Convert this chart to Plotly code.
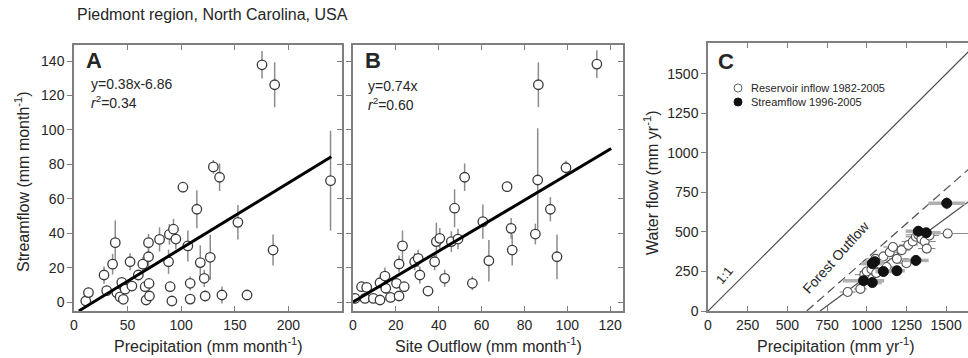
import plotly.graph_objects as go

W, H = 968, 358
FONT = "Liberation Sans, Arial, sans-serif"
TXT = "#262626"
AX = "#7f7f7f"

# ---------------- Panel A: precipitation vs streamflow (monthly) ----------------
a_precip = [11, 13.5, 28, 30.5, 36, 38.5, 40, 43, 44.6, 46, 47.7, 52.3, 54, 60, 64.2,
            66.4, 67.3, 69.5, 69.5, 70, 70.4, 79.8, 88.2, 89, 89.7, 91.3, 92.8, 95,
            101.6, 106.2, 108.4, 108.4, 114.6, 117.8, 121.5, 122.4, 127.1, 130, 135.8,
            138, 152.9, 161.4, 175.4, 185.7, 187.2, 239.3]
a_flow = [0.6, 5.5, 15.7, 6.6, 22, 34.5, 5.4, 3, 11.4, 1.6, 7.5, 23.4, 9.3, 15.7, 22,
          8.9, 1.2, 26.3, 34.5, 10.8, 3.5, 36.4, 23.4, 39.3, 8.9, 0.6, 42.3, 36.6,
          66.7, 32.6, 10.9, 1.7, 53.9, 22.9, 13.8, 3.5, 26, 78.5, 72.5,
          4.1, 46.3, 4.1, 137.8, 30.2, 126.2, 70.5]
a_err = [2, 3, 5, 3, 6, 13, 3, 2, 3, 2, 3, 5, 3, 3, 4,
         3, 2, 6, 5, 3, 2, 7, 7, 6, 3, 2, 6, 6,
         3, 9, 4, 2, 11, 10, 5, 3, 13, 4, 8,
         5, 10, 2, 8, 9, 13, 29]
a_slope, a_icpt = 0.38, -6.86
a_fit_x = [4.5, 240]

# ---------------- Panel B: site outflow vs streamflow ----------------
b_outflow = [0.9, 4, 5.6, 6.4, 9.5, 12.6, 12.6, 14.9, 15.3, 17.5, 20.3, 21.5, 21.5, 23.1,
             23.9, 28.8, 30.4, 31.2, 35, 38.1, 38.9, 40.5, 42.8, 45.9, 47.4, 49, 52.1,
             55.7, 60.6, 63.4, 71.9, 73.8, 74.3, 85.1, 86.2, 92.1, 95.2, 99.4, 86.5, 113.8]
b_flow = [2.1, 8.9, 2.1, 8.5, 2.1, 1.2, 11.2, 15.1, 8, 2.7, 10.9, 22.1, 3.5, 32.6,
          8.9, 23.4, 25.4, 15.7, 6.4, 23.4, 35.1, 37, 13.8, 35.1, 54.5, 36.6, 72.5,
          10.9, 46.7, 24, 67, 42.8, 30.2, 39.5, 70.9, 53.9, 26.3, 78, 126.2, 138.2]
b_err = [2, 3, 2, 3, 2, 2, 3, 5, 3, 3, 3, 5, 2, 9,
         3, 5, 5, 5, 2, 5, 11, 6, 5, 6, 11, 6, 8,
         4, 10, 12, 3, 6, 9, 6, 30, 7, 13, 4, 13, 8]
b_slope = 0.74
b_fit_x = [0, 120.5]

# ---------------- Panel C: annual precipitation vs water flow ----------------
res_precip = [880, 960, 985, 1000, 1030, 1055, 1080, 1105, 1125, 1145, 1165, 1190,
              1220, 1250, 1262, 1290, 1310, 1325, 1345, 1365, 1378, 1395, 1510, 1060]
res_flow = [120, 140, 230, 250, 265, 330, 300, 345, 278, 372, 405, 330,
            385, 302, 418, 440, 470, 482, 455, 440, 395, 478, 490, 240]
res_xerr = [50, 40, 60, 45, 55, 60, 50, 70, 50, 55, 60, 50,
            55, 50, 60, 70, 65, 80, 60, 70, 55, 60, 140, 45]

str_precip = [1504, 1325, 1375, 1310, 1035, 1050, 1105, 1190, 980, 1035]
str_flow = [682, 505, 495, 320, 300, 312, 250, 255, 192, 180]
str_xerr = [115, 80, 90, 80, 70, 60, 50, 50, 130, 60]
str_yerr = [40, 35, 30, 25, 30, 25, 20, 20, 20, 20]

one_to_one_x = [0, 1700]
outflow_et, outflow_slope = 622, 0.88      # dashed "Forest Outflow" line
flow_et, flow_slope = 706, 0.74            # solid line (0.74 x forest outflow)
line_xmax = 1700

fig = go.Figure()

circ = dict(symbol="circle", size=9.5, color="white", line=dict(color="#3a3a3a", width=1.3))
errstyle = dict(type="data", symmetric=True, color="#8c8c8c", thickness=1.5, width=0)

# Panel A
fig.add_trace(go.Scatter(x=a_precip, y=a_flow, mode="markers", marker=circ,
                         error_y=dict(array=a_err, **errstyle), xaxis="x", yaxis="y",
                         showlegend=False))
fig.add_trace(go.Scatter(x=a_fit_x, y=[a_slope * v + a_icpt for v in a_fit_x], mode="lines",
                         line=dict(color="black", width=3), xaxis="x", yaxis="y",
                         showlegend=False))
# Panel B
fig.add_trace(go.Scatter(x=b_outflow, y=b_flow, mode="markers", marker=circ,
                         error_y=dict(array=b_err, **errstyle), xaxis="x2", yaxis="y2",
                         showlegend=False))
fig.add_trace(go.Scatter(x=b_fit_x, y=[b_slope * v for v in b_fit_x], mode="lines",
                         line=dict(color="black", width=3), xaxis="x2", yaxis="y2",
                         showlegend=False))
# Panel C lines
fig.add_trace(go.Scatter(x=one_to_one_x, y=one_to_one_x, mode="lines",
                         line=dict(color="#4d4d4d", width=1.2), xaxis="x3", yaxis="y3",
                         showlegend=False))
fig.add_trace(go.Scatter(x=[outflow_et, line_xmax],
                         y=[0, outflow_slope * (line_xmax - outflow_et)], mode="lines",
                         line=dict(color="#4d4d4d", width=1.2, dash="9px,5px"),
                         xaxis="x3", yaxis="y3", showlegend=False))
fig.add_trace(go.Scatter(x=[flow_et, line_xmax],
                         y=[0, flow_slope * (line_xmax - flow_et)], mode="lines",
                         line=dict(color="#4d4d4d", width=1.2), xaxis="x3", yaxis="y3",
                         showlegend=False))
# Panel C points
fig.add_trace(go.Scatter(x=res_precip, y=res_flow, mode="markers",
                         marker=dict(symbol="circle", size=9, color="white",
                                     line=dict(color="#555555", width=1.1)),
                         error_x=dict(array=res_xerr, type="data", color="#8c8c8c",
                                      thickness=1.1, width=0),
                         xaxis="x3", yaxis="y3", showlegend=False))
fig.add_trace(go.Scatter(x=str_precip, y=str_flow, mode="markers",
                         marker=dict(symbol="circle", size=10, color="#111111",
                                     line=dict(color="#111111", width=1)),
                         error_x=dict(array=str_xerr, type="data", color="#b0b0b0",
                                      thickness=3.5, width=0),
                         error_y=dict(array=str_yerr, type="data", color="#9a9a9a",
                                      thickness=1.2, width=0),
                         xaxis="x3", yaxis="y3", showlegend=False))
# invisible traces for right-side tick axes
fig.add_trace(go.Scatter(x=[], y=[], xaxis="x", yaxis="y4", showlegend=False))
fig.add_trace(go.Scatter(x=[], y=[], xaxis="x2", yaxis="y5", showlegend=False))

yb, yt = (H - 311) / H, (H - 45) / H
ytC = (H - 43) / H
tickfont = dict(family=FONT, size=14, color=TXT)

def xax(domain, rng, vals, anchor):
    return dict(domain=domain, range=rng, tickvals=vals, ticks="inside", ticklen=5,
                tickcolor=AX, showline=True, linecolor=AX, linewidth=1.5,
                mirror="ticks", showgrid=False, zeroline=False, tickfont=tickfont,
                anchor=anchor, automargin=False)

def yax(domain, rng, vals, anchor, labels=True, mirror=True):
    return dict(domain=domain, range=rng, tickvals=vals, ticks="outside", ticklen=5,
                tickcolor=AX, showline=True, linecolor=AX, linewidth=1.5,
                mirror=mirror, showgrid=False, zeroline=False, tickfont=tickfont,
                showticklabels=labels, anchor=anchor, automargin=False)

a_xd = [74 / W, 342 / W]
b_xd = [353 / W, 623 / W]
c_xd = [708 / W, 1.0]
yr = [-5.2, 149.3]
yvals = [0, 20, 40, 60, 80, 100, 120, 140]

fig.update_layout(
    width=W, height=H, margin=dict(l=0, r=0, t=0, b=0),
    paper_bgcolor="white", plot_bgcolor="white",
    font=dict(family=FONT, color=TXT),
    xaxis=xax(a_xd, [0, 250], [0, 50, 100, 150, 200], "y"),
    yaxis=yax([yb, yt], yr, yvals, "x"),
    xaxis2=xax(b_xd, [0, 126], [0, 20, 40, 60, 80, 100, 120], "y2"),
    yaxis2=yax([yb, yt], yr, yvals, "x2", labels=False),
    xaxis3=dict(xax(c_xd, [0, 1638], [0, 250, 500, 750, 1000, 1250, 1500], "y3")),
    yaxis3=yax([yb, ytC], [0, 1696], [0, 250, 500, 750, 1000, 1250, 1500], "x3",
               mirror=False),
    yaxis4=dict(overlaying="y", side="right", anchor="x", range=yr, tickvals=yvals,
                ticks="inside", ticklen=5, tickcolor=AX, showticklabels=False,
                showline=False, showgrid=False, zeroline=False),
    yaxis5=dict(overlaying="y2", side="right", anchor="x2", range=yr, tickvals=yvals,
                ticks="inside", ticklen=5, tickcolor=AX, showticklabels=False,
                showline=False, showgrid=False, zeroline=False),
)

def ann(text, x, y, size=14, xanchor="center", yanchor="middle", angle=0, bold=False):
    if bold:
        text = "<b>" + text + "</b>"
    fig.add_annotation(text=text, x=x, y=y, xref="paper", yref="paper", showarrow=False,
                       xanchor=xanchor, yanchor=yanchor, textangle=angle,
                       font=dict(family=FONT, size=size, color=TXT))

# title
ann("Piedmont region, North Carolina, USA", 75 / W, 1 - 14 / H, size=16, xanchor="left")
# axis titles
ann("Streamflow (mm month<sup>-1</sup>)", 22 / W, 1 - 182 / H, size=16, angle=-90)
ann("Precipitation (mm month<sup>-1</sup>)", 208 / W, 1 - 345 / H, size=16)
ann("Site Outflow (mm month<sup>-1</sup>)", 488 / W, 1 - 345 / H, size=16)
ann("Precipitation (mm yr<sup>-1</sup>)", 836 / W, 1 - 345 / H, size=16)
ann("Water flow (mm yr<sup>-1</sup>)", 651 / W, 1 - 183 / H, size=16, angle=-90)
# panel letters
ann("A", 84 / W, 1 - 61 / H, size=22, xanchor="left", bold=True)
ann("B", 363 / W, 1 - 61 / H, size=22, xanchor="left", bold=True)
ann("C", 716 / W, 1 - 62 / H, size=22, xanchor="left", bold=True)
# equations
ann("y=0.38x-6.86", 89 / W, 1 - 84 / H, size=14, xanchor="left")
ann("<i>r</i><sup>2</sup>=0.34", 89 / W, 1 - 102 / H, size=14, xanchor="left")
ann("y=0.74x", 366 / W, 1 - 86 / H, size=14, xanchor="left")
ann("<i>r</i><sup>2</sup>=0.60", 366 / W, 1 - 104 / H, size=14, xanchor="left")
# panel C line labels
ann("1:1", 724 / W, 1 - 275 / H, size=13, angle=-50)
ann("Forest Outflow", 836 / W, 1 - 257 / H, size=14, angle=-48)
# panel C legend (manual)
ann("Reservoir inflow 1982-2005", 749 / W, 1 - 88 / H, size=11, xanchor="left")
ann("Streamflow 1996-2005", 749 / W, 1 - 102 / H, size=11, xanchor="left")
fig.add_shape(type="circle", xref="paper", yref="paper", xsizemode="pixel",
              ysizemode="pixel", xanchor=738 / W, yanchor=1 - 88 / H,
              x0=-4, x1=4, y0=-4, y1=4, line=dict(color="#666666", width=1),
              fillcolor="white")
fig.add_shape(type="circle", xref="paper", yref="paper", xsizemode="pixel",
              ysizemode="pixel", xanchor=738 / W, yanchor=1 - 102 / H,
              x0=-4, x1=4, y0=-4, y1=4, line=dict(color="#111111", width=1),
              fillcolor="#111111")

fig.write_html("out.html")
